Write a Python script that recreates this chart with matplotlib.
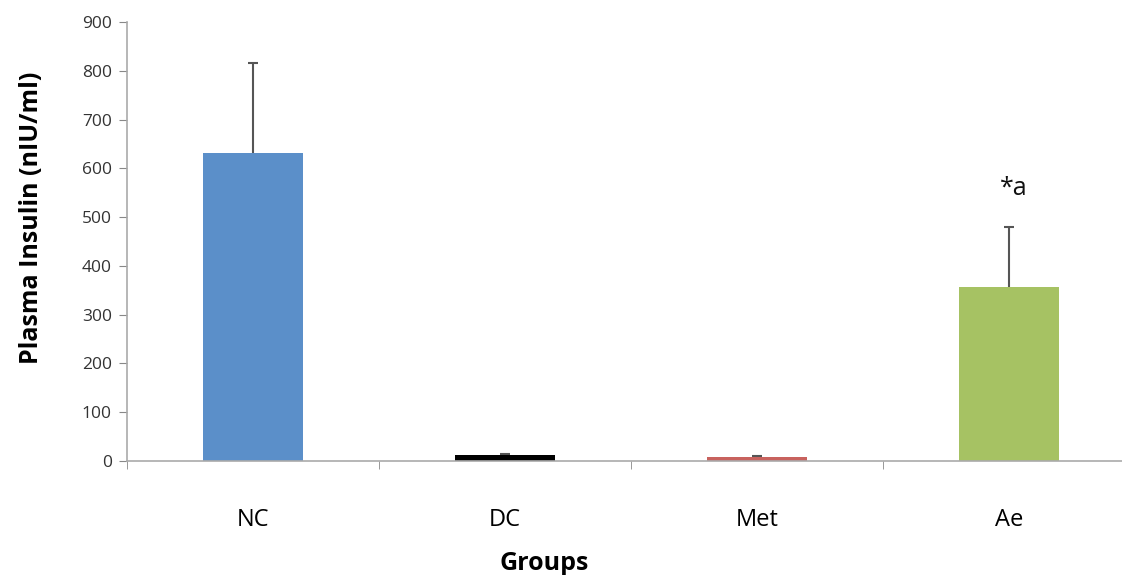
import numpy as np
import matplotlib.pyplot as plt

groups = ['NC', 'DC', 'Met', 'Ae']
insulin = [632, 12, 8, 357]
insulin_err = [183, 3, 2, 123]
colors = ['#5B8FC9', '#000000', '#C8625E', '#A6C263']
yticks = [0, 100, 200, 300, 400, 500, 600, 700, 800, 900]

plt.rcParams['font.family'] = ['Open Sans', 'DejaVu Sans']

fig = plt.figure(figsize=(11.22, 5.75), dpi=100)
# axis spans past the right edge, like the cropped original
ax = fig.add_axes([127 / 1122, 114 / 575, 1008 / 1122, 439 / 575])

x = np.arange(len(groups))
# symmetric error bars drawn under the bars, so only the upper half shows
ax.errorbar(x, insulin, yerr=insulin_err, fmt='none',
            ecolor='#555555', elinewidth=1.5, capsize=3.6, capthick=1.5, zorder=1)
ax.bar(x, insulin, width=0.4, color=colors, zorder=2)

ax.text(3.02, 558, '*a', ha='center', va='center', fontsize=18, color='#111111')

ax.set_xlim(-0.5, 3.5)
ax.set_ylim(0, 900)
ax.set_yticks(yticks)
ax.set_xticks(x)
ax.set_xticklabels(groups, fontsize=17)
ax.set_xticks(np.arange(-0.5, 4, 1), minor=True)
ax.tick_params(axis='x', which='major', length=0, pad=34)
ax.tick_params(axis='x', which='minor', length=6, color='#888888')
ax.tick_params(axis='y', length=6, color='#888888', labelsize=12.5, labelcolor='#333333', pad=5)

for s in ['top', 'right']:
    ax.spines[s].set_visible(False)
for s in ['left', 'bottom']:
    ax.spines[s].set_color('#AAAAAA')
    ax.spines[s].set_linewidth(1.2)

fig.text(32 / 1122, 1 - 218 / 575, 'Plasma Insulin (nIU/ml)', ha='center', va='center',
         rotation=90, fontsize=18, fontweight='bold')
fig.text(544 / 1122, 1 - 563 / 575, 'Groups', ha='center', va='center',
         fontsize=18, fontweight='bold')

fig.savefig('out.png', dpi=100)
